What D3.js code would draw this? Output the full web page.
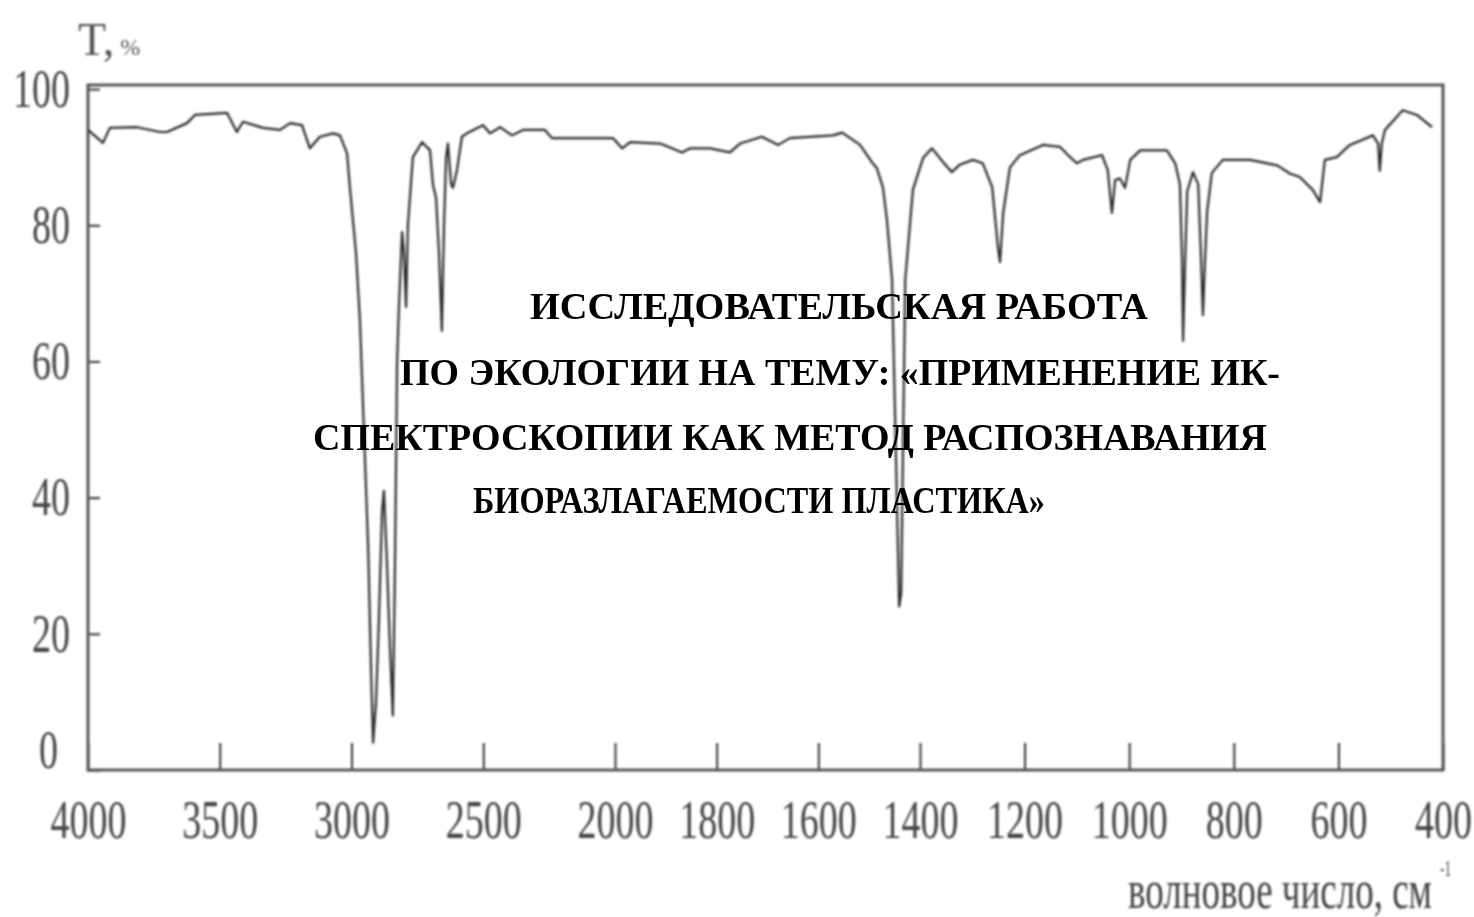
<!DOCTYPE html>
<html>
<head>
<meta charset="utf-8">
<script src="https://cdn.jsdelivr.net/npm/d3@7"></script>
<style>
  body { margin: 0; background: #fff; }
  svg { display: block; }
</style>
</head>
<body>
<div id="chart"></div>
<script>
// Spectrum data (wavenumber, cm-1 / transmittance, %)
const wavenumbers = [
  4000, 3943, 3917, 3814, 3727, 3700, 3624, 3594, 3472, 3435, 3412, 3336, 3271, 3233, 3188,
  3158, 3120, 3070, 3044, 3017, 3006, 2983, 2968, 2953, 2937, 2926, 2918, 2907, 2896, 2884,
  2877, 2865, 2854, 2843, 2835, 2827, 2820, 2808, 2801, 2793, 2786, 2767, 2732, 2702, 2691,
  2679, 2668, 2657, 2649, 2641, 2634, 2622, 2615, 2600, 2581, 2562, 2501, 2474, 2436, 2391,
  2349, 2266, 2239, 2008, 1986, 1970, 1911, 1868, 1852, 1813, 1774, 1754, 1711, 1679, 1656,
  1571, 1553, 1518, 1493, 1485, 1473, 1465, 1455, 1447, 1441, 1437, 1433, 1429, 1414, 1394,
  1377, 1356, 1339, 1324, 1299, 1280, 1262, 1251, 1247, 1241, 1228, 1209, 1165, 1132, 1113,
  1100, 1088, 1052, 1041, 1033, 1027, 1018, 1008, 998, 979, 928, 912, 903, 899, 897,
  893, 889, 878, 868, 863, 859, 855, 851, 842, 821, 769, 717, 693, 674, 649,
  635, 626, 603, 578, 534, 524, 521, 517, 511, 477, 450, 421
];
const transmittance = [
  94.0, 92.1, 94.3, 94.4, 93.7, 93.7, 95.0, 96.2, 96.5, 93.7, 95.2, 94.3, 94.0, 95.0, 94.7,
  91.3, 93.0, 93.5, 93.2, 90.6, 85.5, 76, 66, 50, 33, 15, 4, 10, 22, 38,
  41, 30, 18, 8, 30, 60, 68, 79, 76, 68, 80, 90, 92.2, 91, 86,
  84, 76, 64.5, 80, 90, 92, 86, 85.5, 88, 93, 93.5, 94.7, 93.5, 94.4, 93.2,
  94, 94, 92.8, 92.8, 91.3, 92.2, 92, 90.7, 91.3, 91.3, 90.7, 92, 93, 91.8, 92.8,
  93.2, 93.6, 91.8, 89.1, 88.4, 85.6, 80.8, 72, 45, 24, 26, 50, 72, 85.2, 89.9,
  91.3, 89.3, 87.8, 88.9, 89.6, 89.1, 85.6, 76.8, 74.6, 81.8, 88.5, 90.3, 91.8, 91.5, 90,
  89.1, 89.6, 90.3, 88.1, 81.8, 86.6, 86.9, 85.5, 89.6, 91, 91, 89.1, 86, 75, 63,
  75, 85, 87.8, 86, 76, 66.8, 75, 82, 87.7, 89.6, 89.6, 88.8, 87.6, 87.1, 85.2,
  83.4, 89.6, 90, 91.8, 93.2, 92, 88, 92, 94, 96.9, 96.2, 94.4
];

// Tick values
const xTicks = [4000, 3500, 3000, 2500, 2000, 1800, 1600, 1400, 1200, 1000, 800, 600, 400];
const yTicks = [0, 20, 40, 60, 80, 100];

// Texts
const yLabel = "T,";
const yLabelUnit = "%";
const xLabel = "волновое число, см";
const xLabelSup = "-1";
const titleLines = [
  "ИССЛЕДОВАТЕЛЬСКАЯ РАБОТА",
  "ПО ЭКОЛОГИИ НА ТЕМУ: «ПРИМЕНЕНИЕ ИК-",
  "СПЕКТРОСКОПИИ КАК МЕТОД РАСПОЗНАВАНИЯ",
  "БИОРАЗЛАГАЕМОСТИ ПЛАСТИКА»"
];
// left x, baseline y, width of each title line
const titleLayout = [[530, 319, 618], [400, 385, 880], [313, 450, 954], [473, 513, 572]];

const width = 1474;
const height = 917;

const svg = d3.select("#chart")
    .append("svg")
    .attr("width", width)
    .attr("height", height);

// soft blur, the original scan is fuzzy
svg.append("defs").append("filter")
    .attr("id", "soft")
    .append("feGaussianBlur")
    .attr("stdDeviation", 0.8);

// x axis is split: 4000-2000 compressed, 2000-400 stretched
const x = d3.scaleLinear()
    .domain([4000, 2000, 1400, 400])
    .range([88, 615, 920, 1443]);

const y = d3.scaleLinear()
    .domain([0, 100.6])
    .range([770, 85]);

const g = svg.append("g").attr("filter", "url(#soft)");

const digitW = 19;
const axisFont = "'Liberation Serif', 'Times New Roman', serif";

// x axis: ticks point up, labels far below
const xAxis = g.append("g")
    .attr("transform", `translate(0,${y(0)})`)
    .call(d3.axisBottom(x)
        .tickValues(xTicks)
        .tickFormat(d3.format("d"))
        .tickSizeInner(-27)
        .tickSizeOuter(0)
        .tickPadding(30));
xAxis.select(".domain").remove();
xAxis.selectAll(".tick line").attr("stroke", "#333").attr("stroke-width", 2);
xAxis.selectAll(".tick text")
    .attr("font-family", axisFont)
    .attr("font-size", 54)
    .attr("fill", "#444")
    .attr("textLength", d => String(d).length * digitW)
    .attr("lengthAdjust", "spacingAndGlyphs");

// y axis: ticks point right, inside the frame
const yAxis = g.append("g")
    .attr("transform", `translate(${x(4000)},0)`)
    .call(d3.axisLeft(y)
        .tickValues(yTicks)
        .tickSizeInner(-12)
        .tickSizeOuter(0)
        .tickPadding(18));
yAxis.select(".domain").remove();
yAxis.selectAll(".tick line").attr("stroke", "#333").attr("stroke-width", 2);
yAxis.selectAll(".tick text")
    .attr("font-family", axisFont)
    .attr("font-size", 54)
    .attr("fill", "#444")
    .attr("textLength", d => String(d).length * digitW)
    .attr("lengthAdjust", "spacingAndGlyphs")
    .attr("x", d => d === 0 ? -30 : -18)
    .attr("dy", d => d === 0 ? "-0.05em" : "0.32em");

// frame
g.append("rect")
    .attr("x", x(4000))
    .attr("y", y(100.6))
    .attr("width", x(400) - x(4000))
    .attr("height", y(0) - y(100.6))
    .attr("fill", "none")
    .attr("stroke", "#555")
    .attr("stroke-width", 3);

// spectrum line
const spectrum = wavenumbers.map((w, i) => [w, transmittance[i]]);
const line = d3.line()
    .x(d => x(d[0]))
    .y(d => y(d[1]));

g.append("path")
    .datum(spectrum)
    .attr("d", line)
    .attr("fill", "none")
    .attr("stroke", "#2a2a2a")
    .attr("stroke-width", 2.2)
    .attr("stroke-linejoin", "round");

// axis titles
const yt = g.append("text")
    .attr("x", 78)
    .attr("y", 55)
    .attr("font-family", axisFont)
    .attr("fill", "#555");
yt.append("tspan").attr("font-size", 46).text(yLabel);
yt.append("tspan").attr("font-size", 24).attr("dx", 6).text(yLabelUnit);

g.append("text")
    .attr("x", 1128)
    .attr("y", 908)
    .attr("font-family", axisFont)
    .attr("font-size", 54)
    .attr("fill", "#444")
    .attr("textLength", 304)
    .attr("lengthAdjust", "spacingAndGlyphs")
    .text(xLabel);
g.append("text")
    .attr("x", 1440)
    .attr("y", 876)
    .attr("font-family", axisFont)
    .attr("font-size", 24)
    .attr("fill", "#444")
    .attr("textLength", 11)
    .attr("lengthAdjust", "spacingAndGlyphs")
    .text(xLabelSup);

// overlaid title text
svg.append("g")
    .selectAll("text")
    .data(titleLines)
    .join("text")
    .attr("x", (d, i) => titleLayout[i][0])
    .attr("y", (d, i) => titleLayout[i][1])
    .attr("textLength", (d, i) => titleLayout[i][2])
    .attr("lengthAdjust", "spacingAndGlyphs")
    .attr("font-family", axisFont)
    .attr("font-weight", "bold")
    .attr("font-size", 37)
    .attr("fill", "#000")
    .text(d => d);
</script>
</body>
</html>
